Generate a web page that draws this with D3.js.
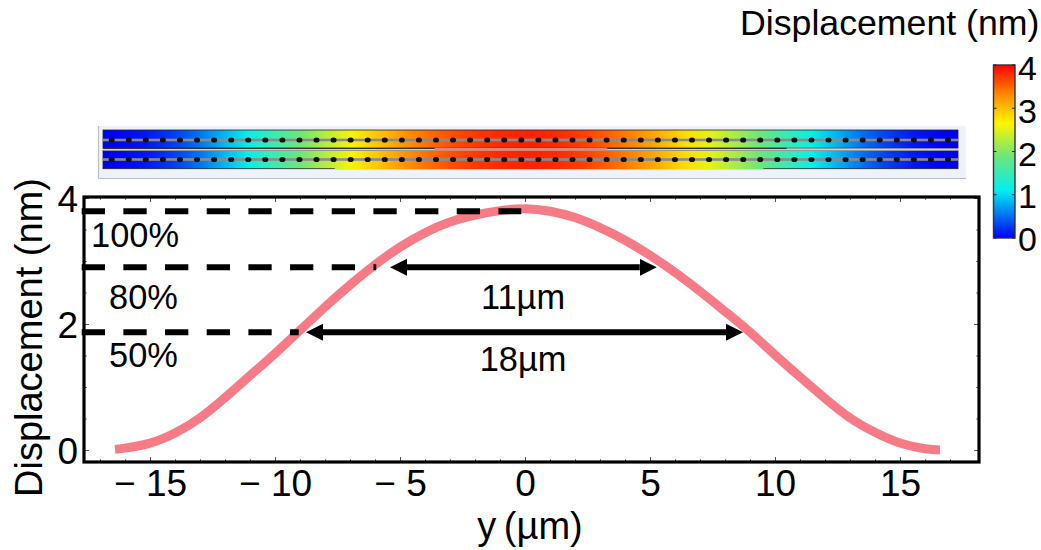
<!DOCTYPE html>
<html>
<head>
<meta charset="utf-8">
<script src="https://cdnjs.cloudflare.com/ajax/libs/d3/7.8.5/d3.min.js"></script>
<style>
    html, body { margin: 0; padding: 0; background: #fff; }
    svg { display: block; }
    text { font-family: "Liberation Sans", Arial, sans-serif; fill: #000; }
</style>
</head>
<body>
<div id="chart"></div>
<script>
// values
var yPos = [-16.4, -16, -15, -14, -13, -12, -11, -10, -9, -8, -7, -6, -5, -4, -3, -2, -1, 0,
            1, 2, 3, 4, 5, 6, 7, 8, 9, 10, 11, 12, 13, 14, 15, 16, 16.6];
var displacement = [0.01, 0.03, 0.11, 0.27, 0.51, 0.83, 1.18, 1.53, 1.90, 2.27, 2.62, 2.94, 3.22, 3.45, 3.62, 3.73, 3.80, 3.83,
                    3.79, 3.69, 3.53, 3.33, 3.09, 2.82, 2.52, 2.20, 1.87, 1.51, 1.16, 0.82, 0.51, 0.28, 0.11, 0.02, 0.00];

var xMajor = [-15, -10, -5, 0, 5, 10, 15];
var xMinor = [-17, -16, -14, -13, -12, -11, -9, -8, -7, -6, -4, -3, -2, -1, 1, 2, 3, 4, 6, 7, 8, 9, 11, 12, 13, 14, 16, 17];
var yMajor = [0, 2, 4];
var yMinor = [0.5, 1, 1.5, 2.5, 3, 3.5];
var barTicks = [0, 1, 2, 3, 4];

var levelNames = ["100%", "80%", "50%"];
var levelValues = [3.79, 2.9, 1.87];
var levelEnds = [-0.15, -5.95, -9.05];

var spanNames = ["11µm", "18µm"];
var spanLevels = [2.9, 1.87];
var spanFrom = [-5.4, -8.76];
var spanTo = [5.27, 8.72];

var colorStops = [0, 1.1, 1.9, 2.66, 3.3, 4];
var colorValues = ["#0000f5", "#00f0f0", "#6ee678", "#fff500", "#ff8c00", "#ff0000"];
var holeCount = 50;

var width = 1041, height = 550;
var plotLeft = 84, plotRight = 979, plotTop = 197, plotBottom = 462;

var svg = d3.select('#chart').append('svg')
    .attr('width', width)
    .attr('height', height);
var defs = svg.append('defs');

var x = d3.scaleLinear().domain([-17.64, 18.16]).range([plotLeft, plotRight]);
var y = d3.scaleLinear().domain([0, 4.016]).range([450, plotTop]);
var color = d3.scaleLinear().domain(colorStops).range(colorValues);

// ---- simulated device strip ----
var stripX = d3.scaleLinear().domain([-16.7, 16.7]).range([103, 958]);
var strip = svg.append('g');

var stripGrad = defs.append('linearGradient')
    .attr('id', 'stripGrad')
    .attr('gradientUnits', 'userSpaceOnUse')
    .attr('x1', 103).attr('y1', 0)
    .attr('x2', 958).attr('y2', 0);
stripGrad.selectAll('stop')
    .data(yPos)
  .enter().append('stop')
    .attr('offset', function(d) { return (stripX(d) - 103) / 855; })
    .attr('stop-color', function(d, i) { return color(displacement[i]); });

strip.append('rect')
    .attr('x', 98).attr('y', 126)
    .attr('width', 868).attr('height', 52)
    .attr('fill', '#eef3fb');
strip.append('path')
    .attr('d', 'M98.5,126V178.5H966')
    .attr('fill', 'none')
    .attr('stroke', '#b9bdc6')
    .attr('stroke-width', 1.2);

// two device layers
[130, 150.5].forEach(function(layerTop) {
    strip.append('rect')
        .attr('x', 103).attr('y', layerTop)
        .attr('width', 855).attr('height', 18.2)
        .attr('fill', 'url(#stripGrad)')
        .attr('stroke', '#222')
        .attr('stroke-width', 0.8);
});

// lower layer runs on below the frame in the middle part
strip.append('rect')
    .attr('x', stripX(-7.65)).attr('y', 166)
    .attr('width', stripX(9.1) - stripX(-7.65)).attr('height', 3.2)
    .attr('fill', 'url(#stripGrad)');

// gap between the layers
strip.append('rect')
    .attr('x', 103).attr('y', 148.6)
    .attr('width', 855).attr('height', 2)
    .attr('fill', '#cfcfcf');
strip.append('rect')
    .attr('x', stripX(-3.75)).attr('y', 148.2)
    .attr('width', stripX(3) - stripX(-3.75)).attr('height', 2.4)
    .attr('fill', '#f08070');
[[-16.7, -3.75], [3, 10]].forEach(function(s) {
    strip.append('line')
        .attr('x1', stripX(s[0])).attr('x2', stripX(s[1]))
        .attr('y1', 148.4).attr('y2', 148.4)
        .attr('stroke', '#333')
        .attr('stroke-width', 1.2);
});

var holeX = d3.scalePoint().domain(d3.range(holeCount)).range([111.7, 948]);
[140, 159.5].forEach(function(ly) {
    strip.append('rect')
        .attr('x', 103).attr('y', ly - 1.3)
        .attr('width', 855).attr('height', 2.6)
        .attr('fill', '#8a8a8a');
    strip.append('g').selectAll('ellipse')
        .data(d3.range(holeCount))
      .enter().append('ellipse')
        .attr('cx', function(d) { return holeX(d); })
        .attr('cy', ly)
        .attr('rx', 3).attr('ry', 2.6)
        .attr('fill', '#111');
});

// ---- axes ----
function ticks(axis, stroke) {
    return function(g) {
        g.call(axis);
        g.select('.domain').remove();
        g.selectAll('.tick line').attr('stroke', stroke).attr('stroke-width', 1);
    };
}
var none = function() { return ''; };

svg.append('g').attr('transform', 'translate(0,' + plotBottom + ')')
    .call(ticks(d3.axisBottom(x).tickValues(xMinor).tickSize(-3).tickFormat(none), '#777'));
svg.append('g').attr('transform', 'translate(0,' + plotTop + ')')
    .call(ticks(d3.axisTop(x).tickValues(xMinor).tickSize(-3).tickFormat(none), '#777'));
svg.append('g').attr('transform', 'translate(0,' + plotTop + ')')
    .call(ticks(d3.axisTop(x).tickValues(xMajor).tickSize(-5).tickFormat(none), '#555'));
svg.append('g').attr('transform', 'translate(' + plotLeft + ',0)')
    .call(ticks(d3.axisLeft(y).tickValues(yMinor).tickSize(-3).tickFormat(none), '#777'));
svg.append('g').attr('transform', 'translate(' + plotRight + ',0)')
    .call(ticks(d3.axisRight(y).tickValues(yMinor).tickSize(-3).tickFormat(none), '#777'));
svg.append('g').attr('transform', 'translate(' + plotRight + ',0)')
    .call(ticks(d3.axisRight(y).tickValues(yMajor).tickSize(-5).tickFormat(none), '#555'));

var xAxis = svg.append('g').attr('transform', 'translate(0,' + plotBottom + ')')
    .call(ticks(d3.axisBottom(x).tickValues(xMajor).tickSize(-5)
        .tickFormat(function(d) { return d < 0 ? '\u2212\u2009\u200a' + (-d) : d; }), '#555'));
xAxis.selectAll('text')
    .attr('y', 34).attr('dy', 0)
    .attr('fill', '#000')
    .style('font-size', '37px')
    .style('font-family', '"Liberation Sans", Arial, sans-serif');

var yAxis = svg.append('g').attr('transform', 'translate(' + plotLeft + ',0)')
    .call(ticks(d3.axisLeft(y).tickValues(yMajor).tickSize(-5).tickFormat(function(d) { return d; }), '#555'));
yAxis.selectAll('text')
    .attr('x', -6).attr('dy', 13)
    .attr('fill', '#000')
    .style('font-size', '37px')
    .style('font-family', '"Liberation Sans", Arial, sans-serif');

svg.append('rect')
    .attr('x', plotLeft).attr('y', plotTop)
    .attr('width', plotRight - plotLeft).attr('height', plotBottom - plotTop)
    .attr('fill', 'none')
    .attr('stroke', '#000')
    .attr('stroke-width', 3.2);

// ---- curve ----
var line = d3.line()
    .x(function(d) { return x(d); })
    .y(function(d, i) { return y(displacement[i]); })
    .curve(d3.curveNatural);

svg.append('path')
    .datum(yPos)
    .attr('d', line)
    .attr('fill', 'none')
    .attr('stroke', '#f67b86')
    .attr('stroke-width', 9);

// ---- dashed levels ----
svg.selectAll('line.level')
    .data(levelValues)
  .enter().append('line')
    .attr('class', 'level')
    .attr('x1', 81.7)
    .attr('x2', function(d, i) { return x(levelEnds[i]); })
    .attr('y1', function(d) { return y(d); })
    .attr('y2', function(d) { return y(d); })
    .attr('stroke', '#000')
    .attr('stroke-width', 6)
    .attr('stroke-dasharray', '23.3 18.37');

var levelLabelX = [91, 109, 109];
var levelLabelDy = [36, 42, 35];
svg.selectAll('text.levelName')
    .data(levelNames)
  .enter().append('text')
    .attr('class', 'levelName')
    .attr('x', function(d, i) { return levelLabelX[i]; })
    .attr('y', function(d, i) { return y(levelValues[i]) + levelLabelDy[i]; })
    .style('font-size', '34.4px')
    .text(function(d) { return d; });

// ---- width arrows ----
defs.append('marker')
    .attr('id', 'head')
    .attr('markerUnits', 'userSpaceOnUse')
    .attr('orient', 'auto-start-reverse')
    .attr('markerWidth', 18).attr('markerHeight', 18)
    .attr('refX', 0).attr('refY', 9)
  .append('path')
    .attr('d', 'M0,0.5L17,9L0,17.5Z')
    .attr('fill', '#000');

svg.selectAll('line.span')
    .data(spanLevels)
  .enter().append('line')
    .attr('class', 'span')
    .attr('x1', function(d, i) { return x(spanFrom[i]) + 17; })
    .attr('x2', function(d, i) { return x(spanTo[i]) - 17; })
    .attr('y1', function(d) { return y(d); })
    .attr('y2', function(d) { return y(d); })
    .attr('stroke', '#000')
    .attr('stroke-width', 6)
    .attr('marker-start', 'url(#head)')
    .attr('marker-end', 'url(#head)');

var spanLabelDy = [42, 39];
svg.selectAll('text.spanName')
    .data(spanNames)
  .enter().append('text')
    .attr('class', 'spanName')
    .attr('x', 523)
    .attr('y', function(d, i) { return y(spanLevels[i]) + spanLabelDy[i]; })
    .attr('text-anchor', 'middle')
    .style('font-size', '34.4px')
    .text(function(d) { return d; });

// ---- titles ----
svg.append('text')
    .attr('x', 530).attr('y', 539)
    .attr('text-anchor', 'middle')
    .style('font-size', '38px')
    .text('y\u2009(µm)');

svg.append('text')
    .attr('transform', 'translate(42,497) rotate(-90)')
    .style('font-size', '38px')
    .text('Displacement (nm)');

svg.append('text')
    .attr('x', 740).attr('y', 35)
    .style('font-size', '35.7px')
    .text('Displacement (nm)');

// ---- colour bar ----
var barY = d3.scaleLinear().domain([0, 4]).range([238, 65]);
var barLabelY = d3.scaleLinear().domain([0, 4]).range([251, 80]);

var barGrad = defs.append('linearGradient')
    .attr('id', 'barGrad')
    .attr('x1', 0).attr('y1', 0)
    .attr('x2', 0).attr('y2', 1);
barGrad.selectAll('stop')
    .data(colorStops.slice().reverse())
  .enter().append('stop')
    .attr('offset', function(d) { return 1 - d / 4; })
    .attr('stop-color', function(d) { return color(d); });

svg.append('rect')
    .attr('x', 993.5).attr('y', barY(4))
    .attr('width', 21.5).attr('height', barY(0) - barY(4))
    .attr('fill', 'url(#barGrad)')
    .attr('stroke', '#333')
    .attr('stroke-width', 1.4);

svg.selectAll('path.barTick')
    .data(barTicks)
  .enter().append('path')
    .attr('class', 'barTick')
    .attr('d', function(d) {
        return 'M993.5,' + barY(d) + 'h3M1015,' + barY(d) + 'h-3';
    })
    .attr('stroke', '#222')
    .attr('stroke-width', 1.2);

svg.selectAll('text.barLabel')
    .data(barTicks)
  .enter().append('text')
    .attr('class', 'barLabel')
    .attr('x', 1018)
    .attr('y', function(d) { return barLabelY(d); })
    .style('font-size', '34px')
    .text(function(d) { return d; });
</script>
</body>
</html>
